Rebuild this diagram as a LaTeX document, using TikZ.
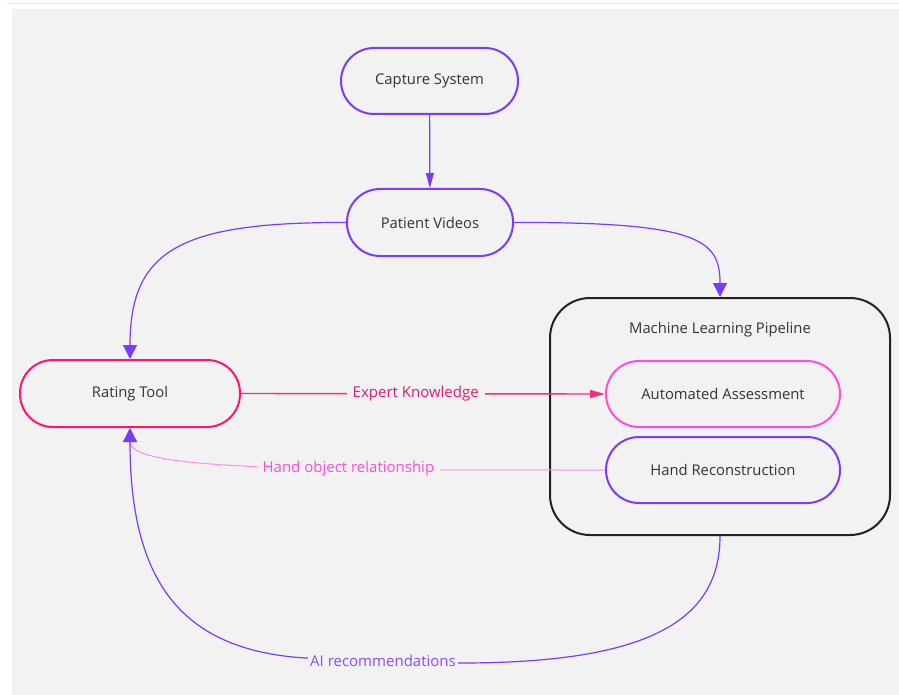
\documentclass[tikz,border=0pt]{standalone}
\usepackage{fontspec}
\setmainfont{Open Sans}
\usetikzlibrary{arrows.meta}
\definecolor{bg}{HTML}{F2F2F2}
\definecolor{txt}{HTML}{333333}
\definecolor{vio}{HTML}{7C3AFF}
\definecolor{vioText}{HTML}{8A4DFF}
\definecolor{rose}{HTML}{FF1470}
\definecolor{roseLine}{HTML}{FF2A7A}
\definecolor{roseText}{HTML}{E21C74}
\definecolor{mag}{HTML}{FF4FD8}
\definecolor{magLine}{HTML}{FF8EE8}
\definecolor{frameLine}{HTML}{222222}
\tikzset{
  pill/.style={draw, line width=2pt, fill=bg, rounded corners=33pt, text=txt,
    font=\fontsize{14.8}{17}\selectfont, inner sep=0pt, minimum height=66pt},
  edgelab/.style={fill=bg, inner xsep=6pt, inner ysep=3pt, font=\fontsize{15}{17}\selectfont},
  narrowtip/.style={-{Triangle[width=8pt,length=15pt]}},
  widetip/.style={-{Triangle[width=14pt,length=14pt]}},
}
\begin{document}
\begin{tikzpicture}[x=1pt,y=-1pt]
\useasboundingbox (0,0) rectangle (899,695);
\fill[white] (0,0) rectangle (899,695);
\draw[line width=1.5pt, draw=black!8] (6,3.5) -- (899,3.5);
\fill[bg] (12,9) rectangle (899,695);

% container
\node[draw=frameLine, line width=2pt, rounded corners=40pt, minimum width=340pt,
  minimum height=237pt, inner sep=0pt] (ml) at (720,416.5) {};
\node[text=txt, font=\fontsize{14.8}{17}\selectfont] (mltitle) at (720,329.5) {Machine Learning Pipeline};

% nodes
\node[pill, draw=vio, minimum width=177pt] (cs) at (429.5,81) {\raisebox{-1pt}{Capture System}};
\node[pill, draw=vio, minimum width=166pt, minimum height=67pt] (pv) at (430,222.5) {\raisebox{-1pt}{Patient Videos}};
\node[pill, draw=rose, minimum width=220pt, minimum height=67pt] (rt) at (130,393.5) {\raisebox{-1pt}{Rating Tool}};
\node[pill, draw=mag, minimum width=234pt] (aa) at (723,394) {\raisebox{-1pt}{Automated Assessment}};
\node[pill, draw=vio, minimum width=234pt] (hr) at (723,470) {\raisebox{-1pt}{Hand Reconstruction}};

% edges
\draw[vio, line width=1.2pt, narrowtip] (cs) -- (pv);
\draw[vio, line width=1.2pt, widetip] (pv.west) .. controls (180,222) and (130,250) .. (rt.north);
\draw[vio, line width=1.2pt, widetip] (pv.east) .. controls (700,222) and (720,240) .. (ml.north);
\draw[roseLine, line width=1.4pt, narrowtip] (rt.east) -- node[edgelab, text=roseText, pos=0.48] {Expert Knowledge} (aa.west);
\draw[magLine, line width=1pt, widetip] (hr.west) .. controls (300,470) and (130,470) .. node[edgelab, text=mag, pos=0.33] {Hand object relationship} (rt.south);
\draw[vio, line width=1.2pt, widetip] (ml.south) .. controls (720,620) and (650,663) .. (461,663)
  -- node[edgelab, text=vioText, inner xsep=2pt] {AI recommendations} (305,658)
  .. controls (180,650) and (130,580) .. (rt.south);
\end{tikzpicture}
\end{document}
